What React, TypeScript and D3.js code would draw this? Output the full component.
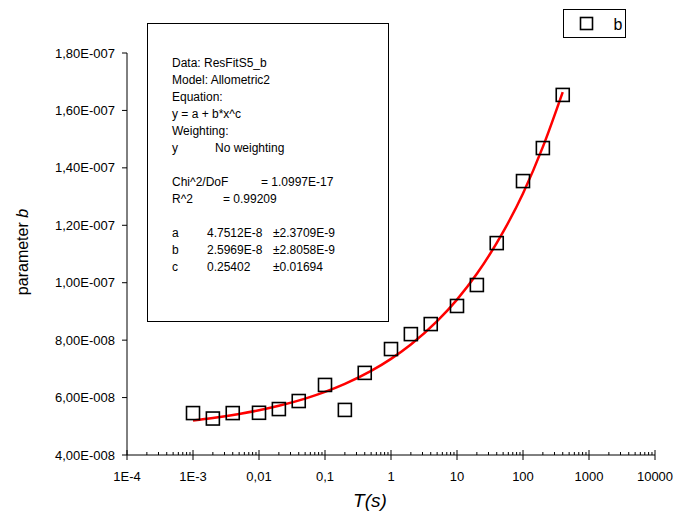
import React from "react";
import * as d3 from "d3";

const T = [0.001, 0.002, 0.004, 0.01, 0.02, 0.04, 0.1, 0.2, 0.4, 1, 2, 4, 10, 20, 40, 100, 200, 400];
const B = [5.46e-8, 5.27e-8, 5.46e-8, 5.47e-8, 5.6e-8, 5.88e-8, 6.44e-8, 5.57e-8, 6.86e-8, 7.69e-8, 8.21e-8, 8.56e-8, 9.19e-8, 9.92e-8, 1.138e-7, 1.354e-7, 1.469e-7, 1.654e-7];

const fitT = [0.001, 0.002, 0.005, 0.01, 0.02, 0.05, 0.1, 0.2, 0.5, 1, 2, 5, 10, 20, 50, 100, 200, 400];
const fitB = [5.2e-8, 5.287e-8, 5.427e-8, 5.558e-8, 5.713e-8, 5.965e-8, 6.198e-8, 6.477e-8, 6.929e-8, 7.348e-8, 7.848e-8, 8.66e-8, 9.412e-8, 1.031e-7, 1.177e-7, 1.311e-7, 1.473e-7, 1.664e-7];

const xTickVals = [1e-4, 1e-3, 1e-2, 1e-1, 1, 10, 100, 1000, 10000];
const xTickLabels = ["1E-4", "1E-3", "0,01", "0,1", "1", "10", "100", "1000", "10000"];
const yTickVals = [4e-8, 6e-8, 8e-8, 1e-7, 1.2e-7, 1.4e-7, 1.6e-7, 1.8e-7];
const yTickLabels = ["4,00E-008", "6,00E-008", "8,00E-008", "1,00E-007", "1,20E-007", "1,40E-007", "1,60E-007", "1,80E-007"];

const boxLines1 = ["Data: ResFitS5_b", "Model: Allometric2", "Equation:", "y = a + b*x^c", "Weighting:"];
const paramNames = ["a", "b", "c"];
const paramVals = ["4.7512E-8", "2.5969E-8", "0.25402"];
const paramErrs = ["\u00b12.3709E-9", "\u00b12.8058E-9", "\u00b10.01694"];

const FONT = "'Liberation Sans', Arial, sans-serif";

export default function App() {
  const x = d3.scaleLog().domain([1e-4, 1e4]).range([127, 655]);
  const y = d3.scaleLinear().domain([4e-8, 1.8e-7]).range([455, 53]);

  const minor: number[] = [];
  for (let e = -4; e < 4; e++) {
    for (let m = 2; m <= 9; m++) minor.push(m * Math.pow(10, e));
  }

  const line = d3
    .line<number>()
    .x((_, i) => x(fitT[i]))
    .y((d) => y(d))
    .curve(d3.curveMonotoneX);

  const sq = 13;
  const ls = 17;
  const b0 = 67;

  return (
    <svg width={682} height={517} style={{ position: "absolute", left: 0, top: 0, background: "#fff" }} fontFamily={FONT}>
      <rect x={0} y={0} width={682} height={517} fill="#fff" />
      {/* axes */}
      <line x1={127} x2={127} y1={53} y2={455} stroke="#000" strokeWidth={1} />
      <line x1={127} x2={655} y1={455} y2={455} stroke="#000" strokeWidth={1} />
      {yTickVals.map((v, i) => (
        <g key={"y" + i}>
          <line x1={122} x2={127} y1={y(v)} y2={y(v)} stroke="#000" />
          <text x={115} y={y(v)} dy="0.35em" textAnchor="end" fontSize={13} fill="#000">
            {yTickLabels[i]}
          </text>
        </g>
      ))}
      {minor.map((v, i) => (
        <line key={"m" + i} x1={x(v)} x2={x(v)} y1={455} y2={452} stroke="#000" />
      ))}
      {xTickVals.map((v, i) => (
        <g key={"x" + i}>
          <line x1={x(v)} x2={x(v)} y1={450} y2={460} stroke="#000" />
          <text x={x(v)} y={476} dy="0.35em" textAnchor="middle" fontSize={13} fill="#000">
            {xTickLabels[i]}
          </text>
        </g>
      ))}
      <text x={370} y={507} textAnchor="middle" fontSize={19} fontStyle="italic" fill="#000">
        T(s)
      </text>
      <text transform="translate(28,252) rotate(-90)" textAnchor="middle" fontSize={16} fill="#000">
        parameter <tspan fontStyle="italic">b</tspan>
      </text>

      {/* fit box */}
      <rect x={147.5} y={23.5} width={241} height={298} fill="none" stroke="#000" strokeWidth={1} />
      <g fontSize={12} fill="#000">
        {boxLines1.map((s, i) => (
          <text key={"b" + i} x={172} y={b0 + i * ls}>
            {s}
          </text>
        ))}
        <text x={172} y={b0 + 5 * ls}>y</text>
        <text x={215} y={b0 + 5 * ls}>No weighting</text>
        <text x={172} y={b0 + 7 * ls}>Chi^2/DoF</text>
        <text x={261} y={b0 + 7 * ls}>= 1.0997E-17</text>
        <text x={172} y={b0 + 8 * ls}>R^2</text>
        <text x={223} y={b0 + 8 * ls}>=  0.99209</text>
        {paramNames.map((p, i) => (
          <g key={"p" + i}>
            <text x={172} y={b0 + (10 + i) * ls}>{p}</text>
            <text x={207} y={b0 + (10 + i) * ls}>{paramVals[i]}</text>
            <text x={273} y={b0 + (10 + i) * ls}>{paramErrs[i]}</text>
          </g>
        ))}
      </g>

      {/* fit curve */}
      <path d={line(fitB) || ""} fill="none" stroke="#ff0000" strokeWidth={2.5} />

      {/* data markers */}
      {B.map((v, i) => (
        <rect
          key={"d" + i}
          x={x(T[i]) - sq / 2}
          y={y(v) - sq / 2}
          width={sq}
          height={sq}
          fill="none"
          stroke="#000"
          strokeWidth={1.6}
        />
      ))}

      {/* legend */}
      <rect x={563.5} y={9.5} width={62} height={28} fill="none" stroke="#000" strokeWidth={1} />
      <rect x={580.5} y={17.5} width={12} height={12} fill="none" stroke="#000" strokeWidth={1.6} />
      <text x={618} y={24} dy="0.35em" textAnchor="middle" fontSize={16} fill="#000">
        b
      </text>
    </svg>
  );
}
